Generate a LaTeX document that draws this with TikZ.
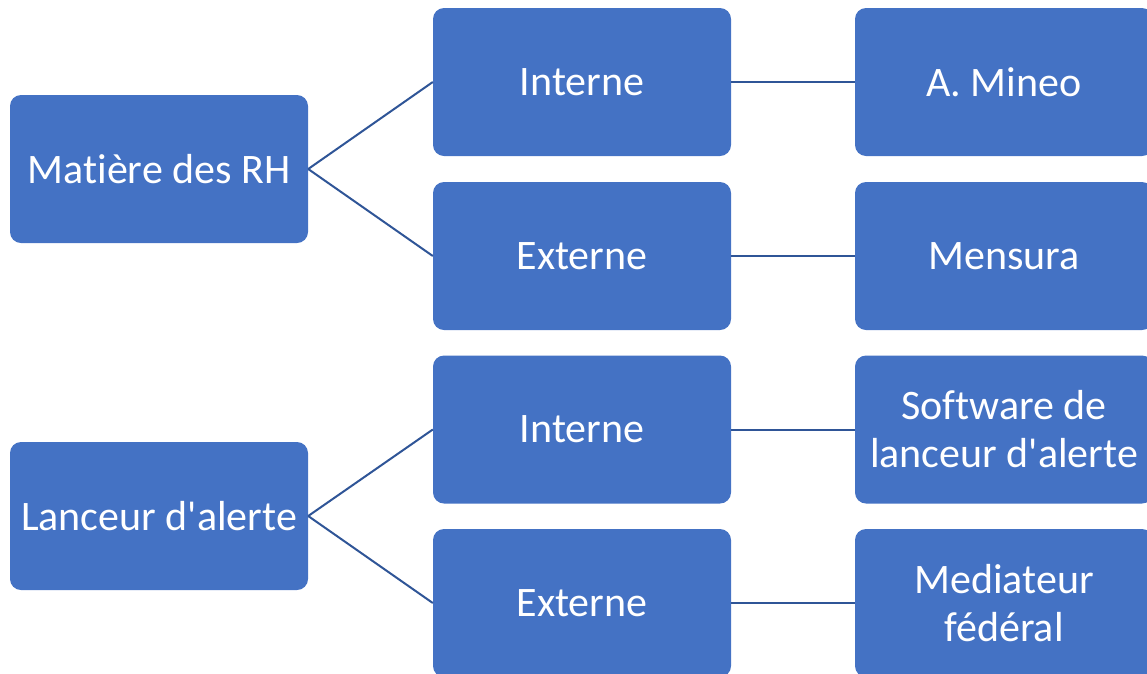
\documentclass[tikz,border=0pt]{standalone}
\usepackage{fontspec}
\setmainfont{Carlito}
\newfontfamily\carl{Carlito}[Ligatures=NoCommon]
\definecolor{boxblue}{HTML}{4472C4}
\definecolor{linkblue}{HTML}{2F5597}
\tikzset{
  box/.style={draw=none, fill=boxblue, rounded corners=11pt, minimum width=298pt, minimum height=148pt,
    inner sep=0pt, text=white, align=center, font=\carl\fontsize{42}{48}\selectfont},
  link/.style={draw=linkblue, line width=2pt}
}
\begin{document}
\begin{tikzpicture}[x=1pt,y=-1pt]
\path[use as bounding box, clip] (0,0) rectangle (1147,673);
\node[box] (l1) at (159,169) {Matière des RH};
\node[box] (l2) at (159,516) {Lanceur d'alerte};
\node[box] (m1) at (582,82) {Interne};
\node[box] (m2) at (582,256) {Externe};
\node[box] (m3) at (582,429.5) {Interne};
\node[box] (m4) at (582,603) {Externe};
\node[box] (r1) at (1004,82) {A. Mineo};
\node[box] (r2) at (1004,256) {Mensura};
\node[box] (r3) at (1004,429.5) {Software de\\lanceur d'alerte};
\node[box] (r4) at (1004,603) {Mediateur\\fédéral};
\draw[link] (l1.east) -- (m1.west);
\draw[link] (l1.east) -- (m2.west);
\draw[link] (l2.east) -- (m3.west);
\draw[link] (l2.east) -- (m4.west);
\draw[link] (m1.east) -- (r1.west);
\draw[link] (m2.east) -- (r2.west);
\draw[link] (m3.east) -- (r3.west);
\draw[link] (m4.east) -- (r4.west);
\end{tikzpicture}
\end{document}
